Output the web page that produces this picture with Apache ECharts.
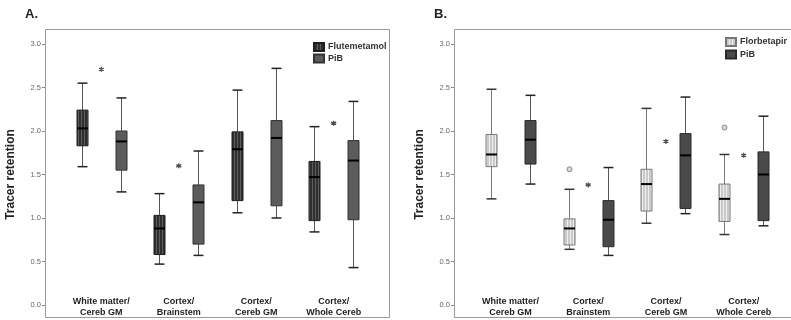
<!DOCTYPE html>
<html><head><meta charset="utf-8">
<script src="https://cdn.jsdelivr.net/npm/echarts@6/dist/echarts.min.js"></script>
<style>html,body{margin:0;padding:0;background:#fff}#c{width:791px;height:320px}</style>
</head><body><div id="c"></div>
<script>
// ---- data (min, Q1, median, Q3, max) ----
const categories = ['White matter/\nCereb GM', 'Cortex/\nBrainstem', 'Cortex/\nCereb GM', 'Cortex/\nWhole Cereb'];
const yTicks = [0, 0.5, 1.0, 1.5, 2.0, 2.5, 3.0];
const flutemetamolA = [
  [1.59, 1.83, 2.03, 2.24, 2.55],
  [0.47, 0.58, 0.88, 1.03, 1.28],
  [1.06, 1.20, 1.79, 1.99, 2.47],
  [0.84, 0.97, 1.47, 1.65, 2.05]
];
const pibA = [
  [1.30, 1.55, 1.88, 2.00, 2.38],
  [0.57, 0.70, 1.18, 1.38, 1.77],
  [1.00, 1.14, 1.92, 2.12, 2.72],
  [0.43, 0.98, 1.66, 1.89, 2.34]
];
const asterisksA = [2.71, 1.60, '-', 2.09];
const florbetapirB = [
  [1.22, 1.59, 1.73, 1.96, 2.48],
  [0.64, 0.69, 0.88, 0.99, 1.33],
  [0.94, 1.08, 1.39, 1.56, 2.26],
  [0.81, 0.96, 1.22, 1.39, 1.73]
];
const florbetapirOutliersB = ['-', 1.56, '-', 2.04];
const pibB = [
  [1.39, 1.62, 1.90, 2.12, 2.41],
  [0.57, 0.67, 0.98, 1.20, 1.58],
  [1.05, 1.11, 1.72, 1.97, 2.39],
  [0.91, 0.97, 1.50, 1.76, 2.17]
];
const asterisksB = ['-', 1.38, 1.88, 1.72];

// ---- styling helpers ----
function stripes(bg, fg, period, lw) {
  const c = document.createElement('canvas');
  c.width = period; c.height = 4;
  const g = c.getContext('2d');
  g.fillStyle = bg; g.fillRect(0, 0, period, 4);
  g.fillStyle = fg; g.fillRect(0, 0, lw, 4);
  return { image: c, repeat: 'repeat' };
}
const fluteFill = stripes('#2f2f2f', '#5e5e5e', 3, 1);
const florFill = stripes('#c9c9c9', '#efefef', 3, 1);

function boxData(arr, outliers) {
  return arr.map((v, i) => [i].concat(v).concat([outliers ? outliers[i] : '-']));
}
function renderer(side, st) {
  return function (params, api) {
    const cat = api.value(0);
    const bw = api.size([1, 0])[0];
    const yOf = v => api.coord([cat, v])[1];
    const cx = Math.round(api.coord([cat, 0])[0] + side * bw / 4) + 0.5;
    const w = Math.round(bw * 0.14);
    const cap = w * 0.45;
    const yMin = yOf(api.value(1)), yQ1 = yOf(api.value(2)), yMed = yOf(api.value(3)),
          yQ3 = yOf(api.value(4)), yMax = yOf(api.value(5));
    const lineSt = { stroke: st.whisker, lineWidth: 1 };
    const ch = [
      { type: 'line', shape: { x1: cx, y1: yMax, x2: cx, y2: yQ3 }, style: lineSt },
      { type: 'line', shape: { x1: cx, y1: yQ1, x2: cx, y2: yMin }, style: lineSt },
      { type: 'line', shape: { x1: cx - cap, y1: yMax, x2: cx + cap, y2: yMax }, style: { stroke: st.cap, lineWidth: 1.5 } },
      { type: 'line', shape: { x1: cx - cap, y1: yMin, x2: cx + cap, y2: yMin }, style: { stroke: st.cap, lineWidth: 1.5 } },
      { type: 'rect', shape: { x: cx - w / 2, y: yQ3, width: w, height: yQ1 - yQ3 }, style: { fill: st.fill, stroke: st.border, lineWidth: 1 } },
      { type: 'line', shape: { x1: cx - w / 2, y1: yMed, x2: cx + w / 2, y2: yMed }, style: { stroke: '#000', lineWidth: 2 } }
    ];
    const o = api.value(6);
    if (!isNaN(o)) {
      ch.push({ type: 'circle', shape: { cx: cx, cy: yOf(o), r: 2.5 }, style: { fill: '#d8d8d8', stroke: '#888', lineWidth: 1 } });
    }
    return { type: 'group', children: ch };
  };
}
const asteriskPath = 'path://M0,-5L0,5M-4.33,-2.5L4.33,2.5M-4.33,2.5L4.33,-2.5';

function boxSeries(name, gi, arr, outliers, side, st) {
  return {
    type: 'custom', name: name, xAxisIndex: gi, yAxisIndex: gi,
    data: boxData(arr, outliers),
    encode: { x: 0, y: [1, 2, 3, 4, 5] },
    itemStyle: { color: st.fill, borderColor: st.border, borderWidth: 1 },
    renderItem: renderer(side, st), z: 3
  };
}
function starSeries(gi, vals) {
  return {
    type: 'scatter', xAxisIndex: gi, yAxisIndex: gi, silent: true,
    data: vals.map((v, i) => [i, v]),
    symbol: asteriskPath, symbolSize: 5,
    itemStyle: { color: 'none', borderColor: '#222', borderWidth: 1.3 }, z: 4
  };
}

const stFlute = { fill: fluteFill, border: '#1e1e1e', whisker: '#555', cap: '#222' };
const stPibA = { fill: '#5c5c5c', border: '#333', whisker: '#555', cap: '#222' };
const stFlor = { fill: florFill, border: '#777', whisker: '#777', cap: '#333' };
const stPibB = { fill: '#4a4a4a', border: '#2a2a2a', whisker: '#555', cap: '#222' };

const font = 'Liberation Sans, Arial, sans-serif';
function xAx(gi) {
  return {
    type: 'category', gridIndex: gi, data: categories,
    axisLine: { show: false }, axisTick: { show: false }, splitLine: { show: false },
    axisLabel: { margin: -9, fontFamily: font, fontWeight: 'bold', fontSize: 9, lineHeight: 11, color: '#222', interval: 0 }
  };
}
function yAx(gi, off) {
  return {
    type: 'value', gridIndex: gi, min: 0, max: 3, interval: 0.5, offset: off,
    name: 'Tracer retention', nameLocation: 'middle', nameGap: 28,
    nameTextStyle: { fontFamily: font, fontWeight: 'bold', fontSize: 12, color: '#222' },
    axisLine: { show: false }, splitLine: { show: false },
    axisTick: { show: true, length: 3, lineStyle: { color: '#888' } },
    axisLabel: { margin: 4, fontFamily: font, fontSize: 7.5, color: '#666', formatter: v => v.toFixed(1) }
  };
}
const legendText = { fontFamily: font, fontWeight: 'bold', fontSize: 9, lineHeight: 9, color: '#333', padding: [0, 0, 0, -1] };

const chart = echarts.init(document.getElementById('c'), null, { renderer: 'canvas' });
chart.setOption({
  animation: false,
  backgroundColor: '#fff',
  graphic: [
    { type: 'rect', shape: { x: 45.5, y: 29.5, width: 344, height: 288 }, style: { fill: 'none', stroke: '#9a9a9a', lineWidth: 1 }, z: 0 },
    { type: 'rect', shape: { x: 454.5, y: 29.5, width: 344, height: 288 }, style: { fill: 'none', stroke: '#9a9a9a', lineWidth: 1 }, z: 0 },
    { type: 'text', left: 25, top: 8, style: { text: 'A.', font: 'bold 13px ' + font, fill: '#222' } },
    { type: 'text', left: 434, top: 8, style: { text: 'B.', font: 'bold 13px ' + font, fill: '#222' } }
  ],
  grid: [
    { left: 62.65, top: 44, width: 309.7, height: 261 },
    { left: 471.6, top: 44, width: 310.9, height: 261 }
  ],
  legend: [
    { data: ['Flutemetamol', 'PiB'], orient: 'vertical', left: 313, top: 42, padding: 0, icon: 'rect',
      itemWidth: 10, itemHeight: 8, itemGap: 1.5, textStyle: legendText },
    { data: ['Florbetapir', 'PiB '], orient: 'vertical', left: 725, top: 37, padding: 0, icon: 'rect',
      itemWidth: 10, itemHeight: 8, itemGap: 2.5, textStyle: legendText }
  ],
  xAxis: [xAx(0), xAx(1)],
  yAxis: [yAx(0, 17.65), yAx(1, 17.6)],
  series: [
    boxSeries('Flutemetamol', 0, flutemetamolA, null, -1, stFlute),
    boxSeries('PiB', 0, pibA, null, 1, stPibA),
    starSeries(0, asterisksA),
    boxSeries('Florbetapir', 1, florbetapirB, florbetapirOutliersB, -1, stFlor),
    boxSeries('PiB ', 1, pibB, null, 1, stPibB),
    starSeries(1, asterisksB)
  ]
});
</script></body></html>
